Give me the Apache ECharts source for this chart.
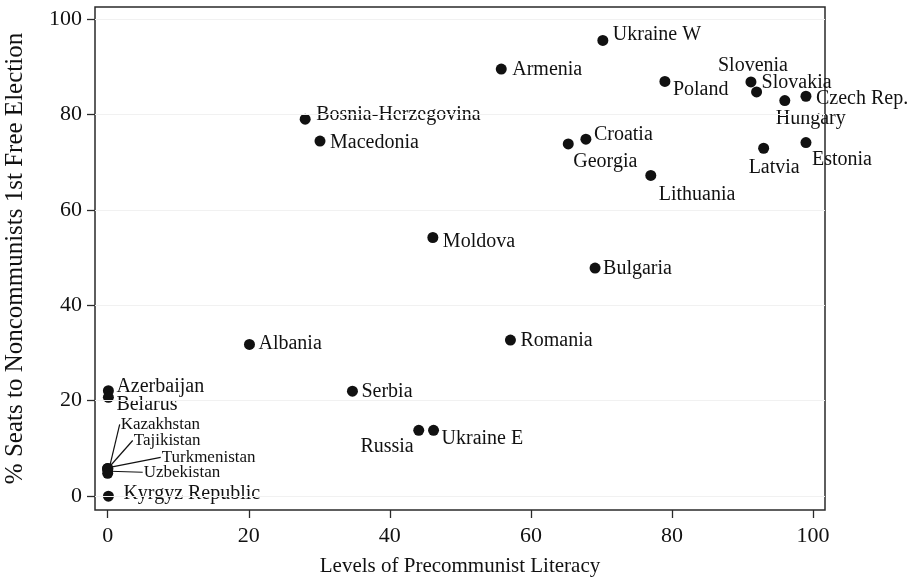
<!DOCTYPE html>
<html>
<head>
<meta charset="utf-8">
<script src="https://cdn.jsdelivr.net/npm/echarts@6/dist/echarts.min.js"></script>
<style>
  html, body { margin: 0; padding: 0; background: #fff; }
  #main { width: 918px; height: 581px; }
</style>
</head>
<body>
<div id="main"></div>
<script>
// countries, literacy (x) and seats share (y)
var countries = [
  "Ukraine W", "Armenia", "Poland", "Slovenia", "Slovakia", "Czech Rep.", "Hungary",
  "Estonia", "Latvia", "Bosnia-Herzegovina", "Macedonia", "Croatia", "Georgia",
  "Lithuania", "Moldova", "Bulgaria", "Albania", "Romania", "Serbia", "Russia",
  "Ukraine E", "Azerbaijan", "Belarus", "Kazakhstan", "Tajikistan", "Turkmenistan",
  "Uzbekistan", "Kyrgyz Republic"
];
var literacy = [
  70.2, 55.8, 79.0, 91.2, 92.0, 99.0, 96.0,
  99.0, 93.0, 28.0, 30.1, 67.8, 65.3,
  77.0, 46.1, 69.1, 20.1, 57.1, 34.7, 44.1,
  46.2, 0.1, 0.1, 0, 0, 0,
  0, 0.1
];
var seats = [
  95.5, 89.5, 86.9, 86.8, 84.7, 83.8, 82.9,
  74.1, 72.9, 79.0, 74.4, 74.8, 73.8,
  67.2, 54.2, 47.8, 31.8, 32.7, 22.0, 13.8,
  13.8, 22.1, 20.7, 5.8, 5.8, 5.6,
  4.8, 0
];
var xTicks = [0, 20, 40, 60, 80, 100];
var yTicks = [0, 20, 40, 60, 80, 100];

// label placement (Stata-like mlabpos), anchor + pixel offset from the dot
var place = {
  "Ukraine W": ["left", 10, -6],
  "Armenia": ["left", 11, 1],
  "Poland": ["left", 8, 8],
  "Slovenia": ["center", 2, -16],
  "Slovakia": ["left", 5, -9],
  "Czech Rep.": ["left", 10, 3],
  "Hungary": ["left", -9, 18],
  "Estonia": ["left", 6, 17],
  "Latvia": ["left", -15, 19],
  "Bosnia-Herzegovina": ["left", 11, -4],
  "Macedonia": ["left", 10, 2],
  "Croatia": ["left", 8, -4],
  "Georgia": ["left", 5, 18],
  "Lithuania": ["left", 8, 19],
  "Moldova": ["left", 10, 4],
  "Bulgaria": ["left", 8, 1],
  "Albania": ["left", 9, -1],
  "Romania": ["left", 10, 1],
  "Serbia": ["left", 9, 1],
  "Russia": ["right", -5, 16],
  "Ukraine E": ["left", 8, 8],
  "Azerbaijan": ["left", 8, -4],
  "Belarus": ["left", 8, 7],
  "Kyrgyz Republic": ["left", 15, -2]
};
// small labels with leader lines
var small = {
  "Kazakhstan": [13, -44],
  "Tajikistan": [26, -28],
  "Turkmenistan": [54, -12],
  "Uzbekistan": [36, -1]
};

var font = "Liberation Serif";
var ink = "#111";
var dot = 11;

var points = countries.map(function (c, i) {
  var item = { name: c, value: [literacy[i], seats[i]] };
  var p = place[c] || ["left"].concat(small[c]);
  item.label = {
    align: p[0],
    // position is measured from the symbol's top-left corner
    position: [dot / 2 + p[1], dot / 2 + p[2]]
  };
  if (small[c]) item.label.fontSize = 17;
  return item;
});

// leader lines: from the dot to the start of the small label
var leaders = Object.keys(small).map(function (c) {
  var i = countries.indexOf(c);
  return [literacy[i], seats[i], small[c][0], small[c][1]];
});

var myChart = echarts.init(document.getElementById("main"));
myChart.setOption({
  animation: false,
  grid: {
    left: 95,
    right: 93,
    top: 7,
    bottom: 71,
    outerBoundsMode: "none",
    show: true,
    borderColor: "#2a2a2a",
    borderWidth: 1.5,
    backgroundColor: "#fff"
  },
  xAxis: {
    type: "value",
    min: -1.8,
    max: 101.7,
    name: "Levels of Precommunist Literacy",
    nameLocation: "middle",
    nameGap: 46,
    nameTextStyle: { fontFamily: font, fontSize: 21, color: ink },
    axisLine: { show: false, onZero: false },
    axisTick: { show: true, customValues: xTicks, length: 8, lineStyle: { color: "#2a2a2a", width: 1.3 } },
    axisLabel: { customValues: xTicks, margin: 15, fontFamily: font, fontSize: 22, color: ink },
    splitLine: { show: false }
  },
  yAxis: {
    type: "value",
    min: -2.9,
    max: 102.5,
    name: "% Seats to Noncommunists 1st Free Election",
    nameLocation: "middle",
    nameGap: 67,
    nameTextStyle: { fontFamily: font, fontSize: 25, color: ink },
    axisLine: { show: false, onZero: false },
    axisTick: { show: true, customValues: yTicks, length: 8, lineStyle: { color: "#2a2a2a", width: 1.3 } },
    axisLabel: { customValues: yTicks, margin: 13, fontFamily: font, fontSize: 22, color: ink },
    splitLine: { show: false }
  },
  series: [
    {
      // faint horizontal grid at the y ticks
      type: "scatter",
      z: 0,
      data: [],
      silent: true,
      markLine: {
        silent: true,
        symbol: "none",
        label: { show: false },
        lineStyle: { color: "#f1f1f1", width: 1, type: "solid" },
        data: yTicks.map(function (v) { return { yAxis: v }; })
      }
    },
    {
      type: "custom",
      z: 2,
      silent: true,
      data: leaders,
      renderItem: function (params, api) {
        var p = api.coord([api.value(0), api.value(1)]);
        return {
          type: "line",
          shape: { x1: p[0] + 2, y1: p[1] - 2, x2: p[0] + api.value(2) - 1, y2: p[1] + api.value(3) },
          style: { stroke: ink, lineWidth: 1.2 }
        };
      }
    },
    {
      type: "scatter",
      z: 4,
      symbolSize: dot,
      itemStyle: { color: ink, opacity: 1 },
      label: {
        show: true,
        verticalAlign: "middle",
        formatter: "{b}",
        fontFamily: font,
        fontSize: 20,
        color: ink
      },
      data: points
    }
  ]
});
</script>
</body>
</html>
